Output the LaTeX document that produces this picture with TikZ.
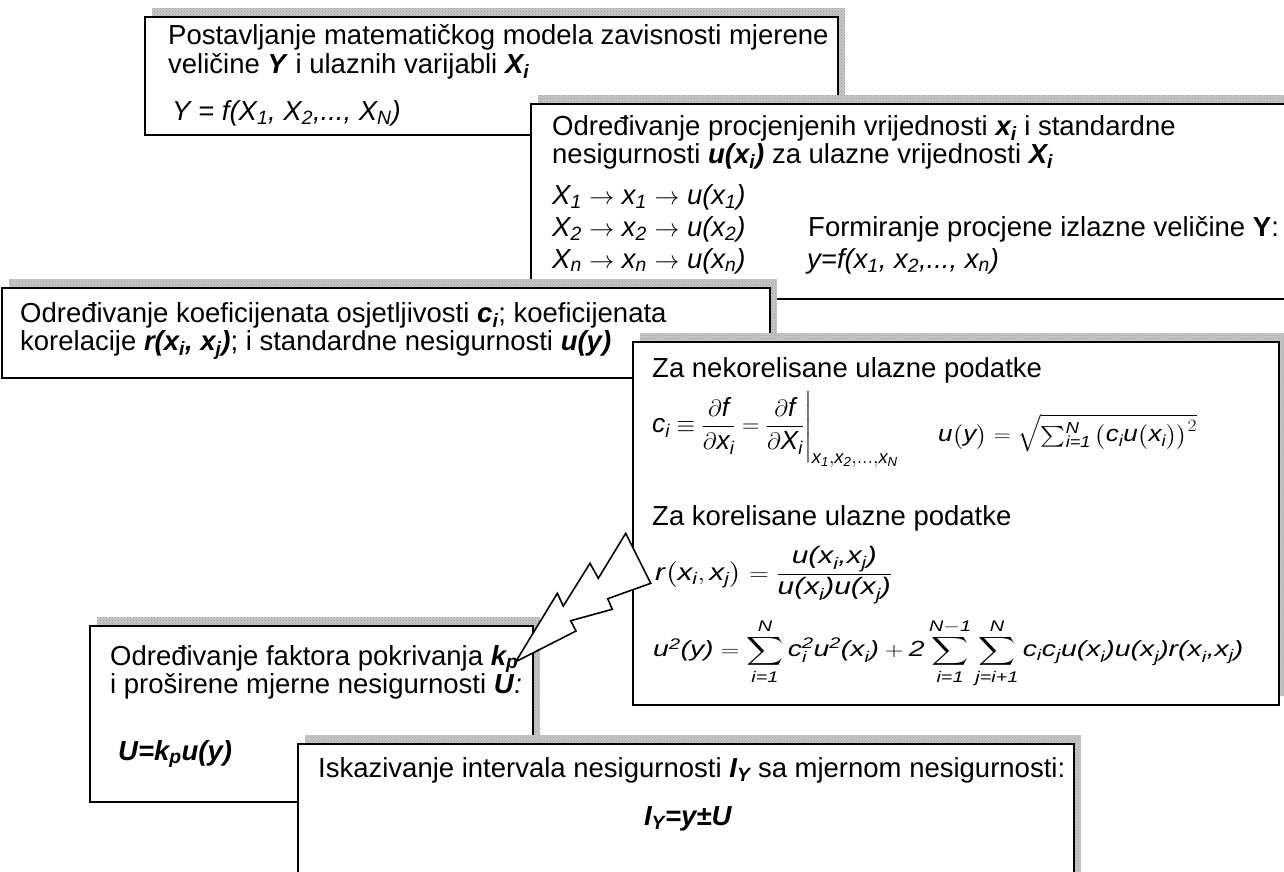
\documentclass[tikz,border=0pt]{standalone}
\usepackage{fontspec}
\setmainfont{Liberation Sans}
\usepackage{amsmath}
\usepackage{graphicx}
\usetikzlibrary{patterns}
\definecolor{shadowgray}{RGB}{198,198,198}
\newcommand{\bi}[1]{\textbf{\textit{#1}}}
\newcommand{\I}[1]{\textit{#1}}
\tikzset{
  panelbox/.style={draw, line width=1.8pt, fill=white, inner sep=0pt, anchor=north west},
  shadowfill/.style={fill=shadowgray, postaction={pattern=crosshatch dots, pattern color=gray!80}},
  txt/.style={anchor=base west, inner sep=0pt, font=\fontsize{27.5}{30}\selectfont},
  formula/.style={anchor=north west, inner sep=0pt, font=\fontsize{27.5}{30}\selectfont},
  bolt/.style={draw, line width=1.6pt, fill=white, line join=miter}
}
% name, x, y, width, height
\newcommand{\panel}[5]{%
  \fill[shadowfill] (#2+8,#3-8) rectangle ++(#4,#5);
  \node[panelbox, minimum width=#4pt, minimum height=#5pt] (#1) at (#2,#3) {};}
\begin{document}
\begin{tikzpicture}[x=1pt,y=-1pt]
\useasboundingbox (0,0) rectangle (1284,871);
\clip (0,0) rectangle (1284,871);
\fill[white] (0,0) rectangle (1284,871);
% box 1
\panel{b1}{144}{16}{693}{118}
\node[txt] (t1a) at (168,44) {Postavljanje matematičkog modela zavisnosti mjerene};
\node[txt] (t1b) at (168,73) {veličine \bi{Y} i ulaznih varijabli \bi{X\textsubscript{i}}};
\node[txt] (t1c) at (172,120) {\textit{Y = f(X\textsubscript{1}, X\textsubscript{2},..., X\textsubscript{N})}};
% box 2
\panel{b2}{530}{103}{780}{195}
\node[txt] (t2a) at (552,135) {Određivanje procjenjenih vrijednosti \bi{x\textsubscript{i}} i standardne};
\node[txt] (t2b) at (552,163) {nesigurnosti \bi{u(x\textsubscript{i})} za ulazne vrijednosti \bi{X\textsubscript{i}}};
\node[txt] (t2c) at (552,204) {\textit{X\textsubscript{1}} $\rightarrow$ \textit{x\textsubscript{1}} $\rightarrow$ \textit{u(x\textsubscript{1})}};
\node[txt] (t2d) at (552,236) {\textit{X\textsubscript{2}} $\rightarrow$ \textit{x\textsubscript{2}} $\rightarrow$ \textit{u(x\textsubscript{2})}};
\node[txt] (t2e) at (552,268) {\textit{X\textsubscript{n}} $\rightarrow$ \textit{x\textsubscript{n}} $\rightarrow$ \textit{u(x\textsubscript{n})}};
\node[txt] (t2f) at (808,236) {Formiranje procjene izlazne veličine \textbf{Y}:};
\node[txt] (t2g) at (807,268) {\textit{y=f(x\textsubscript{1}, x\textsubscript{2},..., x\textsubscript{n})}};
% box 3
\panel{b3}{1}{287}{768}{90}
\node[txt] (t3a) at (20,322) {Određivanje koeficijenata osjetljivosti \bi{c\textsubscript{i}}; koeficijenata};
\node[txt] (t3b) at (20,350) {korelacije \bi{r(x\textsubscript{i}, x\textsubscript{j})}; i standardne nesigurnosti \bi{u(y)}};
% box 4
\panel{b4}{632}{341}{646}{363}
\node[txt] (t4a) at (652,377) {Za nekorelisane ulazne podatke};
\node[formula] (f4a) at (652,391) {\resizebox*{246pt}{76pt}{$\I{c}_{\I{i}}\equiv\dfrac{\partial \I{f}}{\partial \I{x}_{\I{i}}}=\dfrac{\partial \I{f}}{\partial \I{X}_{\I{i}}}\Bigg|_{\I{x}_{\I{1}},\I{x}_{\I{2}},\ldots,\I{x}_{\I{N}}}$}};
\node[formula] (f4b) at (938,414) {\resizebox*{259pt}{38pt}{$\I{u}\big(\I{y}\big)=\sqrt{\textstyle\sum_{\I{i=1}}^{\I{N}}\big(\I{c}_{\I{i}}\I{u}\big(\I{x}_{\I{i}}\big)\big)^{2}}$}};
\node[txt] (t4b) at (652,525) {Za korelisane ulazne podatke};
\node[formula] (f4c) at (655,546) {\resizebox*{237pt}{58pt}{$\I{r}\big(\I{x}_{\I{i}},\I{x}_{\I{j}}\big)=\dfrac{\I{u(x}_{\I{i}}\I{,x}_{\I{j}}\I{)}}{\I{u(x}_{\I{i}}\I{)u(x}_{\I{j}}\I{)}}$}};
\node[formula] (f4d) at (653,619) {\resizebox*{590pt}{68pt}{$\I{u}^{\I{2}}\I{(y)}=\displaystyle\sum_{\I{i=1}}^{\I{N}}\I{c}_{\I{i}}^{\I{2}}\I{u}^{\I{2}}\I{(x}_{\I{i}}\I{)}+\I{2}\sum_{\I{i=1}}^{\I{N}-\I{1}}\sum_{\I{j=i+1}}^{\I{N}}\I{c}_{\I{i}}\I{c}_{\I{j}}\I{u(x}_{\I{i}}\I{)u(x}_{\I{j}}\I{)r(x}_{\I{i}}\I{,x}_{\I{j}}\I{)}$}};
% box 5
\panel{b5}{89}{625}{443}{176}
\node[txt] (t5a) at (110,665) {Određivanje faktora pokrivanja \bi{k\textsubscript{p}}};
\node[txt] (t5b) at (110,693) {i proširene mjerne nesigurnosti \bi{U}\textit{:}};
\node[txt] (t5c) at (118,760) {\bi{U=k\textsubscript{p}u(y)}};
% box 6
\panel{b6}{297}{743}{776}{160}
\node[txt] (t6a) at (318,777) {Iskazivanje intervala nesigurnosti \bi{I\textsubscript{Y}} sa mjernom nesigurnosti:};
\node[txt, anchor=base] (t6b) at (688,825) {\bi{I\textsubscript{Y}=y±U}};
% lightning bolt
\draw[bolt] (515.7,661.7) -- (557.3,593.3) -- (563.3,606) -- (590,563.3) -- (598.3,578.3)
  -- (625.7,533.3) -- (650.7,583.3) -- (607.7,598.7) -- (612.3,609.3) -- (570.7,620.7)
  -- (576,631) -- cycle;
\end{tikzpicture}
\end{document}
